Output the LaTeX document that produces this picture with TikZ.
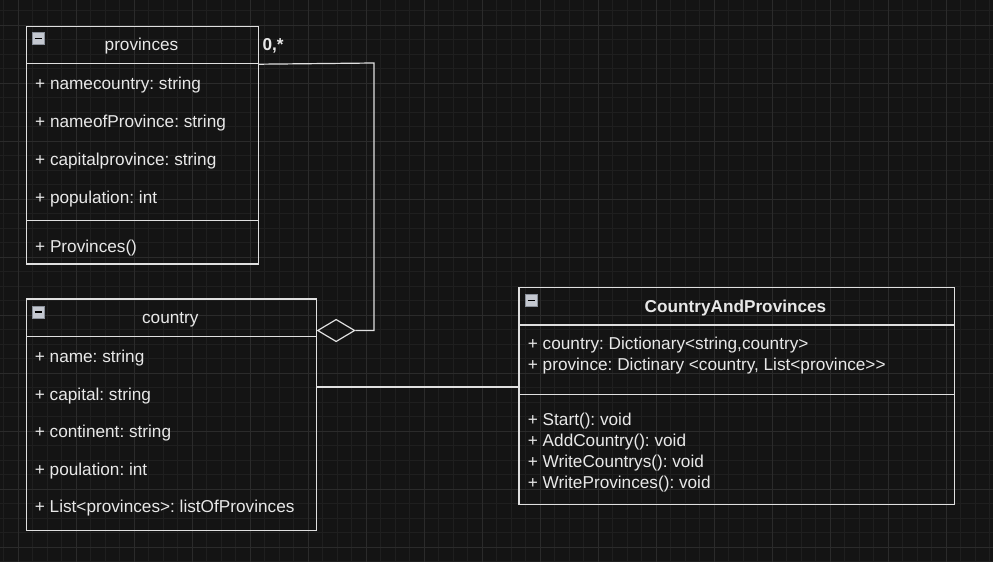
\documentclass[tikz,border=0pt]{standalone}
\usepackage{fontspec}
\setmainfont{Liberation Sans}
\usetikzlibrary{shapes.geometric}
\definecolor{bg}{HTML}{141414}
\definecolor{gridminor}{HTML}{1F1F1F}
\definecolor{gridmajor}{HTML}{2B2B2B}
\definecolor{strokec}{HTML}{E0E0E0}
\definecolor{txt}{HTML}{E8E8E8}
\definecolor{iconfill}{HTML}{C4C8D0}
\definecolor{iconedge}{HTML}{8A909A}
\frenchspacing
\begin{document}
\begin{tikzpicture}[x=1pt,y=-1pt,
  box/.style={draw=strokec, line width=1.2pt, rectangle, inner sep=0pt, anchor=north west},
  lbl/.style={text=txt, font=\fontsize{17.2}{20}\selectfont, inner sep=0pt, anchor=base west},
  ttl/.style={text=txt, font=\fontsize{17.2}{20}\selectfont, inner sep=0pt, anchor=base},
  conn/.style={draw=strokec, line width=1.2pt},
  icon/.style={draw=iconedge, fill=iconfill, minimum size=12pt, inner sep=0pt, anchor=north west, line width=0.6pt},
  minusbar/.style={draw=black, line width=1.6pt},
  aggr/.style={shape=diamond, draw=strokec, line width=1.2pt, inner sep=0pt, minimum width=37.3pt, minimum height=22.4pt}
]
\useasboundingbox (0,0) rectangle (993,562);
\fill[bg] (0,0) rectangle (993,562);
% grid
\foreach \i in {0,...,68} \draw[gridminor, line width=0.8pt] ({3.8+14.5*\i},0) -- ({3.8+14.5*\i},562);
\foreach \j in {0,...,38} \draw[gridminor, line width=0.8pt] (0,{10.8+14.5*\j}) -- (993,{10.8+14.5*\j});
\foreach \i in {0,...,16} \draw[gridmajor, line width=0.9pt] ({18.3+58*\i},0) -- ({18.3+58*\i},562);
\foreach \j in {0,...,9} \draw[gridmajor, line width=0.9pt] (0,{25.3+58*\j}) -- (993,{25.3+58*\j});

% ---------- provinces ----------
\node[box, minimum width=232pt, minimum height=37.3pt] (provhead) at (25.7,25.7) {};
\node[box, minimum width=232pt, minimum height=157pt] (provattr) at (25.7,63) {};
\node[box, minimum width=232pt, minimum height=43.3pt] (provops) at (25.7,220) {};
\node[icon] (provicon) at (32,32) {};
\draw[minusbar] ([xshift=2.5pt]provicon.west) -- ([xshift=-2.5pt]provicon.east);
\node[ttl] (provtitle) at (141.5,50.7) {provinces};
\node[lbl] (p1) at (35,89.5) {+ namecountry: string};
\node[lbl] (p2) at (35,127.5) {+ nameofProvince: string};
\node[lbl] (p3) at (35,165.5) {+ capitalprovince: string};
\node[lbl] (p4) at (35,203) {+ population: int};
\node[lbl] (p5) at (35,252.5) {+ Provinces()};

% ---------- country ----------
\node[box, minimum width=290pt, minimum height=37.7pt] (counhead) at (25.7,298.3) {};
\node[box, minimum width=290pt, minimum height=194pt] (counattr) at (25.7,336) {};
\node[icon] (counicon) at (32,305.7) {};
\draw[minusbar] ([xshift=2.5pt]counicon.west) -- ([xshift=-2.5pt]counicon.east);
\node[ttl] (countitle) at (170.3,323.3) {country};
\node[lbl] (c1) at (34.7,362.3) {+ name: string};
\node[lbl] (c2) at (34.7,400) {+ capital: string};
\node[lbl] (c3) at (34.7,437.5) {+ continent: string};
\node[lbl] (c4) at (34.7,475) {+ poulation: int};
\node[lbl] (c5) at (34.7,512.7) {+ List<provinces>: listOfProvinces};

% ---------- CountryAndProvinces ----------
\node[box, minimum width=435.7pt, minimum height=37.6pt] (caphead) at (518.3,286.7) {};
\node[box, minimum width=435.7pt, minimum height=69.7pt] (capattr) at (518.3,324.3) {};
\node[box, minimum width=435.7pt, minimum height=110pt] (capops) at (518.3,394) {};
\node[icon] (capicon) at (525,294) {};
\draw[minusbar] ([xshift=2.5pt]capicon.west) -- ([xshift=-2.5pt]capicon.east);
\node[ttl, font=\fontsize{17.2}{20}\selectfont\bfseries] (captitle) at (735.5,312.3) {CountryAndProvinces};
\node[lbl] (a1) at (527.7,349.3) {+ country: Dictionary<string,country>};
\node[lbl] (a2) at (527.7,370.7) {+ province: Dictinary <country, List<province>\kern0pt>};
\node[lbl] (m1) at (527.7,425.7) {+ Start(): void};
\node[lbl] (m2) at (527.7,446) {+ AddCountry(): void};
\node[lbl] (m3) at (527.7,467.5) {+ WriteCountrys(): void};
\node[lbl] (m4) at (527.7,488) {+ WriteProvinces(): void};

% ---------- connectors ----------
\node[aggr, anchor=west] (agg) at (counhead.east |- 0,330.5) {};
\coordinate (bend) at (374,63);
\draw[conn] (provhead.south east) -- (bend) |- (agg.east);
\node[lbl, font=\fontsize{17.2}{20}\selectfont\bfseries] (mult) at (262.3,50.3) {0,*};
\coordinate (assocy) at (0,387);
\draw[conn] (counattr.east |- assocy) -- (capattr.west |- assocy);
\end{tikzpicture}
\end{document}
